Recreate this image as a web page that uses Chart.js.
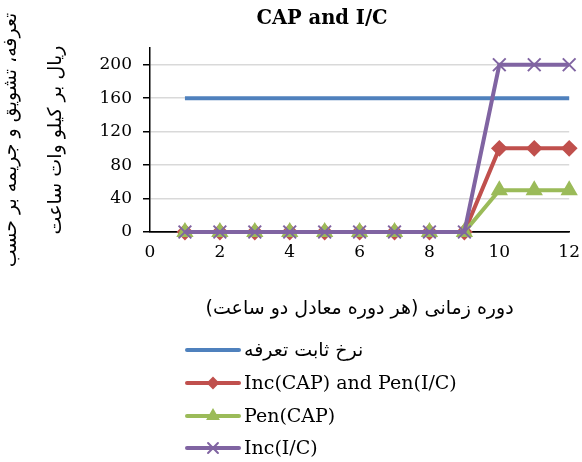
<!DOCTYPE html>
<html lang="fa">
<head>
<meta charset="UTF-8">
<title>CAP and I/C</title>
<script src="https://cdn.jsdelivr.net/npm/chart.js"></script>
<style>
    html, body { margin: 0; padding: 0; background: #fff; }
    #wrap { width: 582px; height: 462px; }
</style>
</head>
<body>
<div id="wrap"><canvas id="chart"></canvas></div>
<script>
    // data
    const periods = [1, 2, 3, 4, 5, 6, 7, 8, 9, 10, 11, 12];
    const flatRate = [160, 160, 160, 160, 160, 160, 160, 160, 160, 160, 160, 160];
    const incCapPenIC = [0, 0, 0, 0, 0, 0, 0, 0, 0, 100, 100, 100];
    const penCap = [0, 0, 0, 0, 0, 0, 0, 0, 0, 50, 50, 50];
    const incIC = [0, 0, 0, 0, 0, 0, 0, 0, 0, 200, 200, 200];
    const yTicks = [0, 40, 80, 120, 160, 200];
    const xTicks = [0, 2, 4, 6, 8, 10, 12];

    const chartTitle = 'CAP and I/C';
    const yTitle = ['تعرفه، تشویق و جریمه بر حسب', 'ریال بر کیلو وات ساعت'];
    const xTitle = 'دوره زمانی (هر دوره معادل دو ساعت)';
    const labels = ['نرخ ثابت تعرفه', 'Inc(CAP) and Pen(I/C)', 'Pen(CAP)', 'Inc(I/C)'];

    const serif = '"DejaVu Serif", "Liberation Serif", serif';
    const persian = '"DejaVu Sans", sans-serif';

    const pts = arr => arr.map((v, i) => ({ x: periods[i], y: v }));

    // title + vertical legend drawn on the canvas
    const extras = {
        id: 'extras',
        afterDraw(chart) {
            const c = chart.ctx;
            c.save();
            c.fillStyle = '#000';
            c.font = 'bold 19.5px ' + serif;
            c.textAlign = 'center';
            c.textBaseline = 'middle';
            c.fillText(chartTitle, 322, 19);

            c.textAlign = 'left';
            const rows = [350, 383, 416, 448];
            chart.data.datasets.forEach((ds, i) => {
                const y = rows[i];
                c.strokeStyle = ds.borderColor;
                c.fillStyle = ds.backgroundColor;
                c.lineWidth = 4;
                c.lineCap = 'round';
                c.beginPath();
                c.moveTo(187, y);
                c.lineTo(239, y);
                c.stroke();
                if (ds.pointStyle) {
                    c.lineWidth = 2;
                    Chart.helpers.drawPoint(c, {
                        pointStyle: ds.pointStyle,
                        radius: ds.pointRadius - 2,
                        borderWidth: 2,
                        rotation: 0
                    }, 213, y);
                }
                c.fillStyle = '#000';
                c.font = (i === 0 ? '19px ' + persian : '19px ' + serif);
                c.fillText(ds.label, 244, y + 1);
            });
            c.restore();
        }
    };

    function dataset(label, data, color, style, radius, order) {
        return {
            label, data: pts(data),
            borderColor: color, backgroundColor: color,
            borderWidth: 4, pointStyle: style || false,
            pointRadius: style ? radius : 0,
            pointBorderWidth: 2,
            pointHoverRadius: radius,
            tension: 0, order, clip: false
        };
    }

    new Chart(document.getElementById('chart'), {
        type: 'line',
        data: {
            datasets: [
                dataset(labels[0], flatRate, '#4F81BD', null, 0, 4),
                dataset(labels[1], incCapPenIC, '#C0504D', 'rectRot', 7, 3),
                dataset(labels[2], penCap, '#9BBB59', 'triangle', 8, 2),
                dataset(labels[3], incIC, '#8064A2', 'crossRot', 9, 1)
            ]
        },
        options: {
            responsive: true,
            maintainAspectRatio: false,
            animation: false,
            layout: { padding: { top: 48, right: 7, bottom: 142, left: 0 } },
            plugins: {
                legend: { display: false },
                title: { display: false },
                tooltip: { enabled: false }
            },
            scales: {
                x: {
                    type: 'linear', min: 0, max: 12,
                    afterFit: s => { s.height = 88; },
                    afterBuildTicks: s => { s.ticks = xTicks.map(v => ({ value: v })); },
                    grid: { display: false },
                    border: { display: true, color: '#000', width: 1.5 },
                    ticks: { color: '#000', padding: 2, font: { family: serif, size: 17 } },
                    title: {
                        display: true, text: xTitle, color: '#000',
                        font: { family: persian, size: 19 },
                        padding: { top: 0, bottom: 0 }
                    }
                },
                y: {
                    min: 0, max: 220,
                    afterFit: s => { s.width = 150; },
                    afterBuildTicks: s => { s.ticks = yTicks.map(v => ({ value: v })); },
                    grid: {
                        color: ctx => ctx.tick && ctx.tick.value === 0 ? '#000' : '#d9d9d9',
                        lineWidth: 1.5, tickColor: '#000', tickLength: 7
                    },
                    border: { display: true, color: '#000', width: 1.5 },
                    ticks: { color: '#000', padding: 11, font: { family: serif, size: 17 } },
                    title: {
                        display: true, text: yTitle, color: '#000',
                        font: { family: persian, size: 19, lineHeight: 2.4 },
                        padding: { top: -12, bottom: 0 }
                    }
                }
            }
        },
        plugins: [extras]
    });
</script>
</body>
</html>
